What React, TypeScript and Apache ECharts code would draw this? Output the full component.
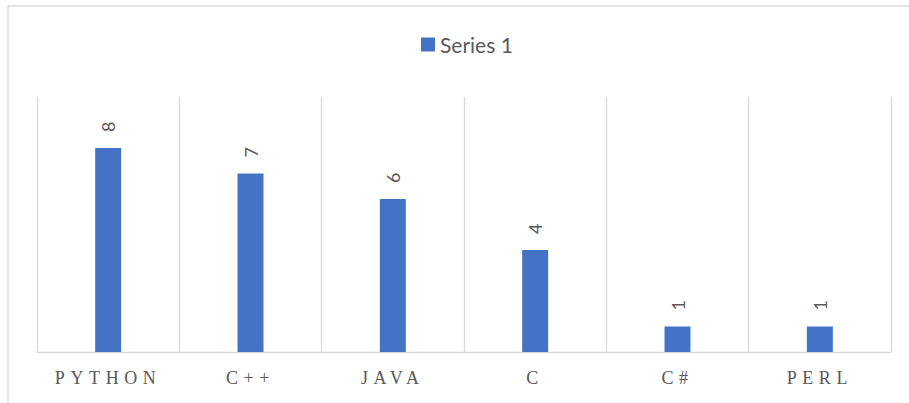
import React, { useEffect, useRef } from "react";
import * as echarts from "echarts";

const categories: string[] = ["PYTHON", "C++", "JAVA", "C", "C#", "PERL"];
const values: number[] = [8, 7, 6, 4, 1, 1];
const seriesName = "Series 1";

const GRAY_TEXT = "#595959";
const GRID_GRAY = "#D9D9D9";
const BAR_BLUE = "#4472C4";

export default function App() {
  const ref = useRef<HTMLDivElement>(null);

  useEffect(() => {
    if (!ref.current) return;
    const chart = echarts.init(ref.current, undefined, { renderer: "svg" });
    chart.setOption({
      animation: false,
      backgroundColor: "#ffffff",
      graphic: [
        {
          type: "rect",
          shape: { x: 8, y: 6, width: 1000, height: 500 },
          style: { fill: "none", stroke: GRID_GRAY, lineWidth: 1.3 },
          silent: true,
        },
      ],
      legend: {
        data: [seriesName],
        icon: "rect",
        itemWidth: 14,
        itemHeight: 14,
        padding: 0,
        left: 421,
        top: 34,
        textStyle: { fontSize: 21, color: GRAY_TEXT, fontFamily: "Lato" },
      },
      grid: { left: 37, right: 18, top: 97, bottom: 51 },
      xAxis: {
        type: "category",
        data: categories,
        boundaryGap: true,
        axisLine: { show: true, lineStyle: { color: GRID_GRAY, width: 1.3 } },
        axisTick: { show: false },
        splitLine: { show: true, interval: 0, lineStyle: { color: GRID_GRAY, width: 1.3 } },
        axisLabel: {
          interval: 0,
          margin: 17,
          fontSize: 18,
          color: GRAY_TEXT,
          fontFamily: "'Liberation Serif'",
        },
      },
      yAxis: {
        type: "value",
        min: 0,
        max: 10,
        show: false,
        splitLine: { show: false },
      },
      series: [
        {
          name: seriesName,
          type: "bar",
          data: values,
          barWidth: 26,
          itemStyle: { color: BAR_BLUE },
          label: {
            show: true,
            position: "top",
            rotate: 90,
            align: "left",
            verticalAlign: "middle",
            distance: 16,
            fontSize: 18,
            color: GRAY_TEXT,
            fontFamily: "Lato",
          },
        },
      ],
    });
    return () => chart.dispose();
  }, []);

  return (
    <>
      <style>{`.chartbox text[style*="Liberation Serif"] { letter-spacing: 5.6px; }`}</style>
      <div
        ref={ref}
        className="chartbox"
        style={{ position: "fixed", left: 0, top: 0, width: 909, height: 403 }}
      />
    </>
  );
}
